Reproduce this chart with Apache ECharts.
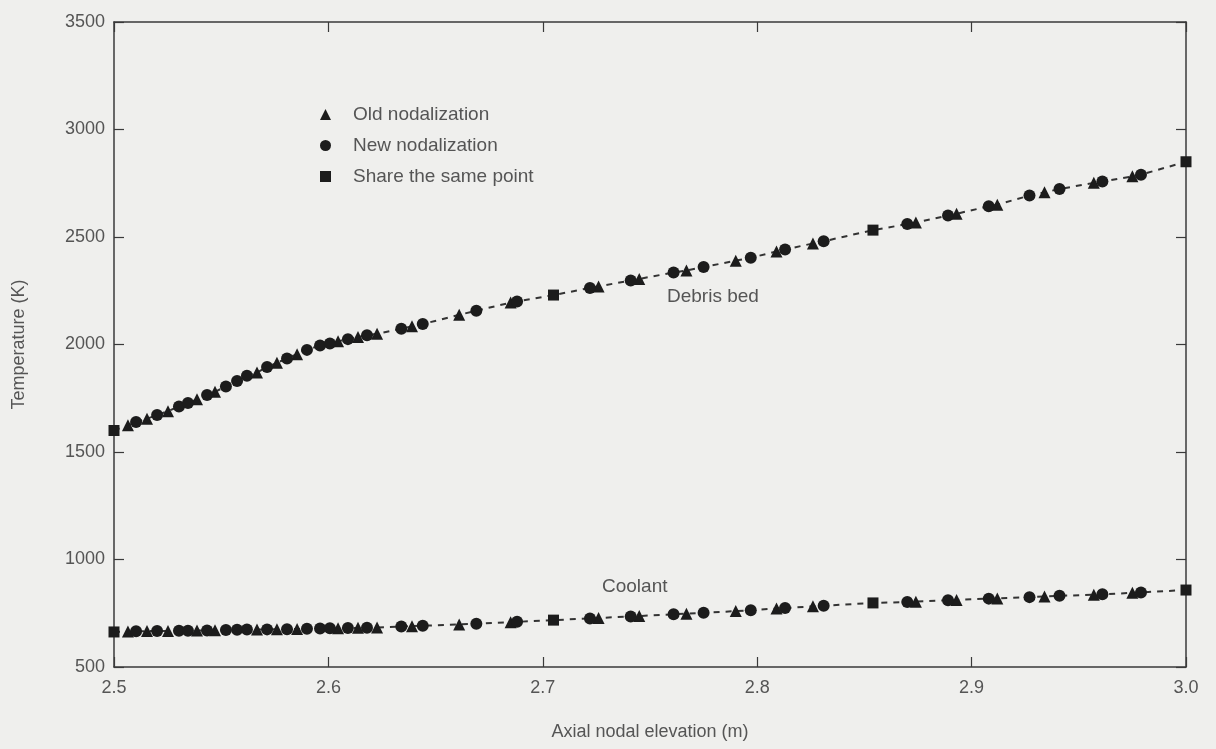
<!DOCTYPE html>
<html>
<head>
<meta charset="utf-8">
<script src="https://cdn.jsdelivr.net/npm/echarts@6/dist/echarts.min.js"></script>
<style>
  html, body { margin: 0; padding: 0; background: #efefed; }
  #main { width: 1216px; height: 749px; }
</style>
</head>
<body>
<div id="main"></div>
<script>
// axial elevations (m) of the old nodes (triangles)
const oldX = [2.5065, 2.5154, 2.5252, 2.5387, 2.5471, 2.5667, 2.576, 2.5854, 2.6045, 2.6138, 2.6227,
  2.639, 2.661, 2.685, 2.726, 2.745, 2.767, 2.79, 2.809, 2.826, 2.874, 2.893, 2.912, 2.934, 2.957, 2.975];
const oldDebris = [1625, 1655, 1690, 1745, 1780, 1870, 1915, 1955, 2015, 2035, 2050,
  2085, 2138, 2195, 2270, 2305, 2344, 2390, 2433, 2470, 2567, 2608, 2650, 2708, 2752, 2782];
const oldCoolant = [665, 667, 668, 670, 671, 674, 676, 677, 680, 682, 684,
  690, 698, 708, 728, 737, 748, 760, 772, 782, 804, 812, 819, 828, 836, 845];

// new nodes (circles)
const newX = [2.5103, 2.5201, 2.5303, 2.5345, 2.5434, 2.5522, 2.5574, 2.562, 2.5714, 2.5807, 2.59, 2.5961, 2.6007, 2.6091, 2.618,
  2.634, 2.644, 2.669, 2.688, 2.722, 2.741, 2.761, 2.775, 2.797, 2.813, 2.831, 2.87, 2.889, 2.908, 2.927, 2.941, 2.961, 2.979];
const newDebris = [1640, 1672, 1712, 1728, 1765, 1805, 1830, 1855, 1895, 1935, 1975, 1995, 2005, 2025, 2043,
  2073, 2095, 2157, 2200, 2263, 2298, 2335, 2360, 2403, 2442, 2480, 2560, 2600, 2643, 2693, 2723, 2758, 2790];
const newCoolant = [666, 667, 669, 669, 670, 672, 673, 674, 675, 676, 678, 679, 680, 681, 683,
  688, 692, 701, 710, 726, 735, 745, 752, 764, 774, 785, 802, 810, 818, 825, 831, 838, 847];

// nodes shared by both nodalizations (squares)
const sharedX = [2.5, 2.705, 2.854, 3.0];
const sharedDebris = [1600, 2230, 2532, 2850];
const sharedCoolant = [663, 718, 798, 858];

const xTicks = [2.5, 2.6, 2.7, 2.8, 2.9, 3.0];
const yTicks = [500, 1000, 1500, 2000, 2500, 3000, 3500];

const ink = '#1c1c1c';
const textGray = '#555';
const font = 'Liberation Sans, Arial, sans-serif';

function pairs(xs, ys) {
  return xs.map((x, i) => [x, ys[i]]);
}
function curve(a, b, c) {
  return a.concat(b, c).sort((p, q) => p[0] - q[0]);
}

const debrisLine = curve(pairs(oldX, oldDebris), pairs(newX, newDebris), pairs(sharedX, sharedDebris));
const coolantLine = curve(pairs(oldX, oldCoolant), pairs(newX, newCoolant), pairs(sharedX, sharedCoolant));

const myChart = echarts.init(document.getElementById('main'));

const baseX = {
  type: 'value',
  min: xTicks[0],
  max: xTicks[xTicks.length - 1],
  interval: 0.1,
  splitLine: { show: false },
  axisLine: { lineStyle: { color: '#3a3a3a', width: 1.5 } },
  axisTick: { inside: true, length: 10, lineStyle: { color: '#3a3a3a', width: 1.2 } }
};
const baseY = {
  type: 'value',
  min: yTicks[0],
  max: yTicks[yTicks.length - 1],
  interval: 500,
  splitLine: { show: false },
  axisLine: { show: true, lineStyle: { color: '#3a3a3a', width: 1.5 } },
  axisTick: { show: true, inside: true, length: 10, lineStyle: { color: '#3a3a3a', width: 1.2 } }
};

const option = {
  backgroundColor: '#efefed',
  animation: false,
  grid: { left: 114, right: 30, top: 22, bottom: 82 },
  legend: {
    orient: 'vertical',
    left: 315,
    top: 100,
    itemWidth: 11,
    itemHeight: 11,
    itemGap: 12,
    data: ['Old nodalization', 'New nodalization', 'Share the same point'],
    textStyle: { color: textGray, fontSize: 19, fontFamily: font, padding: [0, 0, 0, 17] }
  },
  xAxis: [
    Object.assign({}, baseX, {
      position: 'bottom',
      name: 'Axial nodal elevation (m)',
      nameLocation: 'middle',
      nameGap: 56,
      nameTextStyle: { color: textGray, fontSize: 18, fontFamily: font },
      axisLabel: { color: textGray, fontSize: 18, fontFamily: font, margin: 12,
        formatter: v => v.toFixed(1) }
    }),
    Object.assign({}, baseX, { position: 'top', axisLabel: { show: false } })
  ],
  yAxis: [
    Object.assign({}, baseY, {
      position: 'left',
      name: 'Temperature (K)',
      nameLocation: 'middle',
      nameGap: 86,
      nameTextStyle: { color: textGray, fontSize: 18, fontFamily: font },
      axisLabel: { color: textGray, fontSize: 18, fontFamily: font, margin: 9,
        formatter: v => String(v) }
    }),
    Object.assign({}, baseY, { position: 'right', axisLabel: { show: false } })
  ],
  graphic: [
    { type: 'text', left: 667, top: 287,
      style: { text: 'Debris bed', fill: textGray, fontSize: 19, fontFamily: font } },
    { type: 'text', left: 602, top: 577,
      style: { text: 'Coolant', fill: textGray, fontSize: 19, fontFamily: font } }
  ],
  series: [
    { name: 'debris', type: 'line', data: debrisLine, showSymbol: false, symbol: 'none',
      lineStyle: { color: '#333', width: 2, type: [6, 6] }, z: 1 },
    { name: 'coolant', type: 'line', data: coolantLine, showSymbol: false, symbol: 'none',
      lineStyle: { color: '#333', width: 2, type: [6, 6] }, z: 1 },
    { name: 'Old nodalization', type: 'scatter', symbol: 'triangle', symbolSize: 12,
      itemStyle: { color: ink, opacity: 1 },
      data: pairs(oldX, oldDebris).concat(pairs(oldX, oldCoolant)), z: 2 },
    { name: 'New nodalization', type: 'scatter', symbol: 'circle', symbolSize: 12,
      itemStyle: { color: ink, opacity: 1 },
      data: pairs(newX, newDebris).concat(pairs(newX, newCoolant)), z: 3 },
    { name: 'Share the same point', type: 'scatter', symbol: 'rect', symbolSize: 11,
      itemStyle: { color: ink, opacity: 1 },
      data: pairs(sharedX, sharedDebris).concat(pairs(sharedX, sharedCoolant)), z: 4 }
  ]
};

myChart.setOption(option);
</script>
</body>
</html>
